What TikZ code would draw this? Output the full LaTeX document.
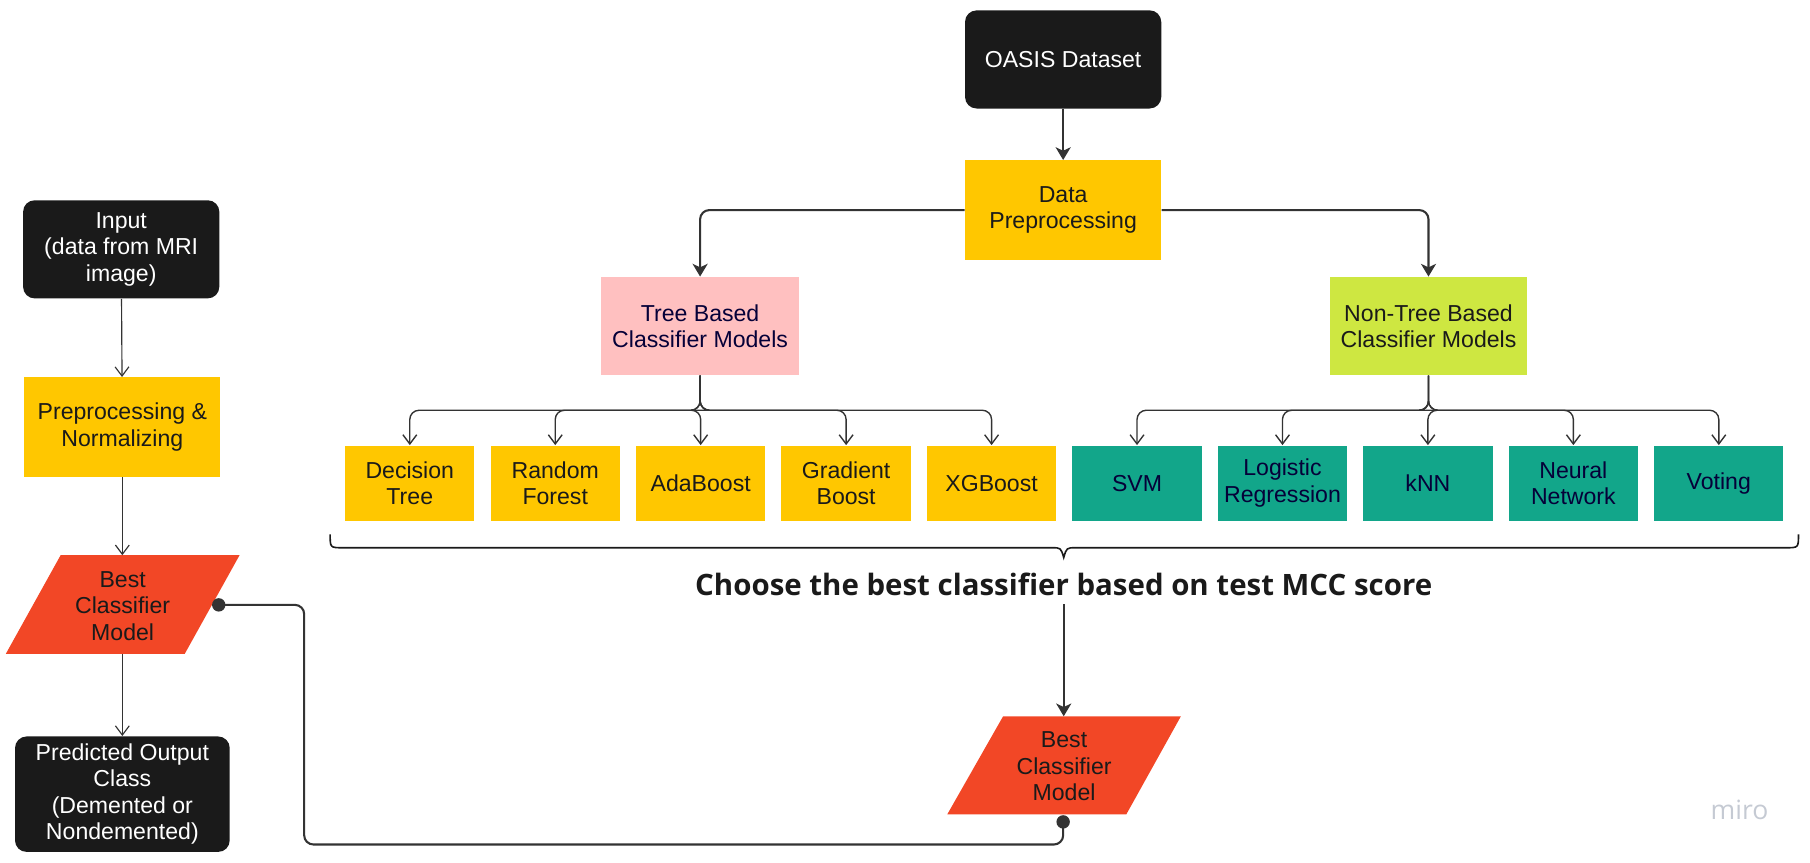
\documentclass[tikz,border=0pt]{standalone}
\usepackage{fontspec}
\setmainfont{Liberation Sans}
\newfontfamily\capfont{Open Sans}
\usetikzlibrary{arrows.meta,calc}
\definecolor{blk}{HTML}{1A1A1A}
\definecolor{ylw}{HTML}{FFC700}
\definecolor{pnk}{HTML}{FFC0C0}
\definecolor{lme}{HTML}{CEE741}
\definecolor{tel}{HTML}{12A68A}
\definecolor{rdd}{HTML}{F24726}
\definecolor{navy}{HTML}{050038}
\definecolor{ln}{HTML}{333333}
\definecolor{miroc}{HTML}{C5CAD3}
\begin{document}
\begin{tikzpicture}[x=0.5pt,y=-0.5pt,
  every node/.style={font=\fontsize{10}{11.5}\selectfont, align=center, inner sep=0pt},
  blackbox/.style={fill=blk, text=white, rounded corners=5pt, minimum width=85pt, minimum height=42.5pt},
  ybox/.style={fill=ylw, text=blk, minimum width=85pt, minimum height=43pt},
  smallbox/.style={minimum width=56pt, minimum height=32.5pt},
  tbox/.style={smallbox, fill=ylw, text=blk},
  nbox/.style={smallbox, fill=tel, text=navy},
  thickarrow/.style={draw=ln, line width=0.9pt, -{Stealth[length=5.5pt,width=6.5pt,inset=1.5pt]}, rounded corners=4pt},
  thinarrow/.style={draw=ln, line width=0.5pt, -{Straight Barb[length=4pt,width=6pt]}, rounded corners=4pt},
  link/.style={draw=ln, line width=0.9pt, rounded corners=4pt},
  dotend/.style={fill=ln},
]
\useasboundingbox (0,0) rectangle (1568,747.6);

% top flow
\node[blackbox] (oasis) at (921,51.5) {OASIS Dataset};
\node[ybox] (dp) at (921,182) {Data\\Preprocessing};
\node[fill=pnk, text=navy, minimum width=85.5pt, minimum height=42.5pt] (tree) at (606.5,282.5) {Tree Based\\Classifier Models};
\node[fill=lme, text=blk, minimum width=85.5pt, minimum height=42.5pt] (ntree) at (1237.5,282.5) {Non-Tree Based\\Classifier Models};

\node[tbox] (dt) at (355,418.5) {Decision\\Tree};
\node[tbox] (rf) at (481,418.5) {Random\\Forest};
\node[tbox] (ab) at (607,418.5) {AdaBoost};
\node[tbox] (gb) at (733,418.5) {Gradient\\Boost};
\node[tbox] (xg) at (859,418.5) {XGBoost};
\node[nbox] (svm) at (985,418.5) {SVM};
\node[nbox] (lr) at (1111,418.5) {Logistic\\Regression};
\node[nbox] (knn) at (1237,418.5) {kNN};
\node[nbox] (nn) at (1363,418.5) {Neural\\Network};
\node[nbox] (vt) at (1489,418.5) {Voting};

\draw[thickarrow] (oasis) -- (dp);
\draw[thickarrow] (dp.west) -| (tree.north);
\draw[thickarrow] (dp.east) -| (ntree.north);

\foreach \c in {dt,rf,ab,gb,xg}
  \draw[thinarrow, line width=0.6pt] (tree.south) -- ++(0,30) -| (\c.north);
\foreach \c in {svm,lr,knn,nn,vt}
  \draw[thinarrow, line width=0.6pt] (ntree.south) -- ++(0,30) -| (\c.north);

% brace
\draw[blk, line width=0.7pt] (286,463) .. controls (286,474.5) .. (297,474.5) -- (911,474.5)
  .. controls (919,474.5) .. (921.5,483) .. controls (924,474.5) .. (932,474.5) -- (1547,474.5)
  .. controls (1558,474.5) .. (1558,463);

\node[text=blk] (cap) at (921.5,506) {\capfont\bfseries\fontsize{12.75}{14}\selectfont Choose the best classifier based on test MCC score};

% bottom parallelogram
\fill[rdd] (869,620.5) -- (1023,620.5) -- (975.7,705.5) -- (820.6,705.5) -- cycle;
\node[text=blk] (bcmB) at (921.8,664) {Best\\Classifier\\Model};
\coordinate (bcmBtop) at (921.5,620.5);
\coordinate (dotB) at (921,712);
\draw[thickarrow] (921.5,523.5) -- (bcmBtop);

% left column
\node[blackbox] (inp) at (105,216) {Input\\(data from MRI\\image)};
\node[ybox] (pn) at (106,370) {Preprocessing \&\\Normalizing};
\fill[rdd] (52.5,481) -- (207.5,481) -- (160,566.5) -- (5,566.5) -- cycle;
\node[text=blk] (bcmL) at (106.25,525) {Best\\Classifier\\Model};
\coordinate (bcmLtop) at (106,481);
\coordinate (bcmLbot) at (106,566.5);
\coordinate (dotL) at (189.5,524);
\node[blackbox, minimum width=93pt, minimum height=50pt] (pred) at (106,688) {Predicted Output\\Class\\(Demented or\\Nondemented)};

\draw[thinarrow] (inp) -- (pn);
\draw[thinarrow] (pn) -- (bcmLtop);
\draw[thinarrow] (bcmLbot) -- (pred);

% feedback connector
\draw[link] (dotB) -- (921,731.6) -- (263.5,731.6) -- (263.5,524) -- (dotL);
\fill[dotend] (dotB) circle (2.9pt);
\fill[dotend] (dotL) circle (2.9pt);

\node[text=miroc] (miro) at (1507,702) {\capfont\fontsize{11.5}{12}\selectfont miro};
\end{tikzpicture}
\end{document}
